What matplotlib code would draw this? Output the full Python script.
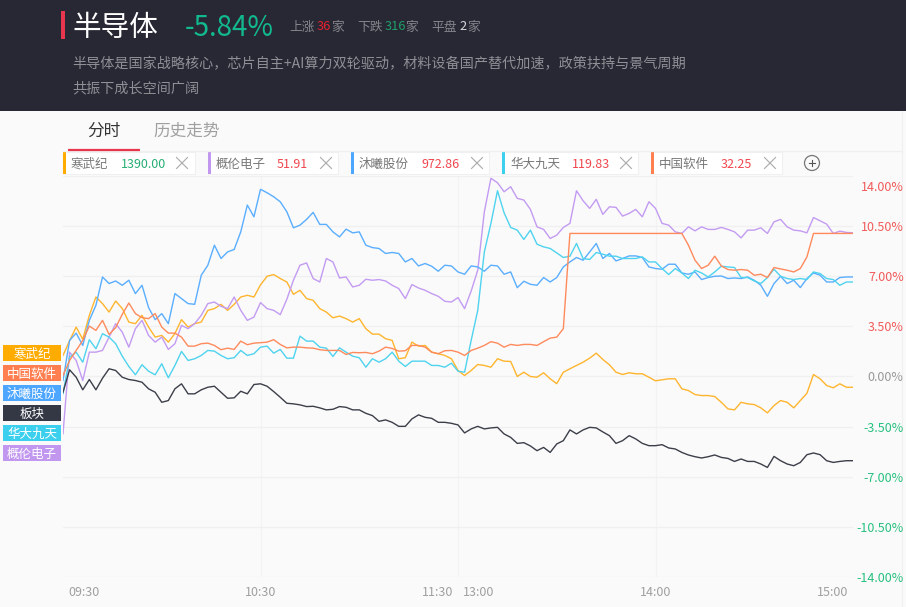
import matplotlib
matplotlib.use('Agg')
import matplotlib.pyplot as plt
from matplotlib.patches import Rectangle, Circle
from matplotlib.transforms import ScaledTranslation

plt.rcParams['font.family'] = ['Noto Sans CJK SC', 'DejaVu Sans']

W, H = 906, 607

# one reading every 2 minutes of trading time, 0 = 09:30, 240 = 15:00
minutes = list(range(0, 242, 2))

hanwuji = [1.47, 2.5, 3.45, 2.6, 4.27, 5.55, 5.09, 4.5, 5.27, 4.75, 3.8, 3.69, 4.27, 3.45, 2.75, 2.87, 2.4, 3.0, 3.97, 3.45,
           3.69, 3.8, 4.62, 4.74, 5.04, 4.62, 5.04, 5.55, 5.67, 5.55, 6.4, 7.0, 7.12, 6.84, 6.6, 5.74, 6.02, 5.44, 5.32, 4.74,
           4.5, 4.1, 4.22, 4.04, 3.8, 4.04, 3.34, 2.96, 2.96, 2.64, 2.52, 1.24, 1.31, 2.4, 2.12, 2.17, 1.7, 1.59, 1.47, 1.24,
           0.42, 0.07, 0.42, 0.84, 0.77, 0.65, 1.24, 1.07, 1.05, 0.0, 0.3, 0.0, -0.05, 0.26, -0.16, -0.5, 0.3, 0.54, 0.77, 1.0,
           1.28, 1.63, 1.19, 0.82, 0.3, 0.14, 0.26, 0.19, 0.19, -0.05, -0.3, -0.23, -0.16, -0.16, -0.86, -0.98, -1.26, -1.33, -1.33, -1.4,
           -1.8, -2.26, -2.33, -1.8, -1.91, -1.96, -2.19, -2.54, -2.03, -1.68, -1.8, -2.19, -1.68, -1.17, 0.14, -0.16, -0.63, -0.79, -0.51, -0.75,
           -0.75]
gailun = [-4.0, 1.7, 1.12, -0.28, 1.7, 1.7, 1.82, 2.75, 3.69, 3.1, 2.05, 3.34, 3.92, 2.87, 2.4, 2.75, 1.89, 2.29, 3.57, 3.34,
          3.69, 4.27, 5.09, 5.2, 4.9, 4.74, 5.55, 4.62, 3.92, 4.15, 5.16, 4.74, 4.62, 4.32, 5.39, 6.72, 7.77, 7.93, 6.84, 6.6,
          8.24, 8.0, 6.88, 6.95, 6.25, 6.37, 6.79, 6.72, 6.77, 6.67, 6.37, 6.14, 5.44, 6.42, 6.18, 6.02, 5.79, 5.6, 5.25, 5.2,
          5.51, 4.74, 5.97, 7.42, 11.5, 13.84, 13.53, 12.9, 13.25, 12.44, 12.32, 11.67, 10.45, 10.27, 9.64, 9.87, 10.41, 10.69, 12.97, 12.27,
          11.74, 12.37, 11.32, 11.85, 11.81, 11.2, 11.39, 11.67, 11.15, 12.2, 11.74, 10.69, 10.57, 10.1, 9.99, 10.45, 10.17, 10.45, 10.27, 10.27,
          10.41, 10.27, 10.1, 9.68, 10.22, 10.22, 10.38, 9.99, 10.8, 10.97, 10.45, 10.22, 10.17, 10.03, 11.1, 10.87, 10.64, 9.99, 10.15, 10.06,
          10.03]
muxi = [-0.28, 2.52, 3.03, 2.17, 3.92, 4.97, 6.95, 6.49, 6.67, 6.37, 6.72, 5.79, 6.37, 4.81, 3.97, 4.39, 3.69, 5.79, 5.44, 5.09,
        5.04, 7.07, 7.77, 9.17, 8.24, 8.7, 8.87, 10.1, 11.97, 11.15, 13.07, 12.83, 12.55, 12.2, 11.5, 10.38, 10.57, 10.97, 11.46, 10.62,
        10.62, 10.1, 9.75, 10.29, 10.03, 10.1, 9.17, 9.0, 8.94, 8.59, 8.66, 8.59, 8.0, 8.24, 7.72, 7.89, 7.7, 7.35, 7.77, 7.72,
        7.3, 7.14, 7.72, 7.65, 7.35, 7.77, 7.72, 7.14, 7.3, 6.2, 6.65, 6.44, 6.37, 6.91, 6.6, 6.91, 7.65, 8.0, 8.31, 8.12,
        8.7, 9.29, 8.24, 8.59, 8.07, 8.24, 8.42, 8.42, 8.31, 7.65, 7.54, 7.49, 7.84, 7.84, 7.23, 7.14, 7.3, 6.77, 6.91, 7.0,
        7.02, 6.84, 6.88, 6.84, 6.95, 6.72, 6.37, 5.6, 6.49, 7.0, 6.49, 6.72, 6.21, 6.84, 7.23, 7.07, 6.6, 6.6, 6.91, 6.95,
        6.95]
huada = [-1.21, 1.35, 1.7, 1.0, 2.57, 1.94, 2.99, 2.75, 2.29, 1.42, 0.7, 0.12, 0.82, 0.37, 0.12, 0.89, -0.09, 0.77, 1.75, 1.12,
         1.24, 1.47, 1.82, 1.77, 1.47, 1.24, 1.31, 1.82, 1.47, 1.59, 2.05, 2.12, 1.63, 1.89, 1.28, 1.28, 2.82, 2.47, 2.47, 2.05,
         1.98, 1.4, 2.0, 1.7, 1.42, 1.31, 0.65, 1.24, 1.0, 1.24, 1.7, 1.07, 0.7, 1.07, 1.07, 1.07, 0.77, 0.77, 0.65, 0.93,
         0.37, 0.3, 2.52, 4.62, 8.7, 10.69, 12.97, 11.43, 10.41, 10.22, 9.57, 10.22, 9.24, 9.05, 8.94, 8.63, 8.31, 8.4, 9.29, 8.24,
         8.17, 8.66, 8.54, 8.4, 8.4, 8.24, 8.24, 8.24, 8.35, 8.0, 8.0, 7.54, 7.12, 7.54, 7.23, 6.84, 7.42, 7.23, 6.95, 7.3,
         7.7, 7.65, 7.61, 6.91, 6.91, 6.67, 6.49, 6.91, 7.49, 7.0, 6.84, 6.77, 6.84, 6.77, 7.3, 7.19, 6.84, 6.77, 6.37, 6.6,
         6.6]
zhongruan = [0.07, 1.12, 1.82, 2.52, 3.52, 3.22, 3.92, 2.94, 3.41, 4.34, 5.13, 4.39, 4.11, 4.04, 4.39, 3.45, 3.03, 3.03, 2.75, 2.12,
             2.12, 2.29, 2.33, 2.17, 1.87, 1.98, 1.89, 2.47, 2.22, 2.33, 2.36, 2.4, 2.57, 2.24, 2.0, 2.05, 2.05, 2.0, 1.98, 1.87,
             1.82, 1.82, 1.82, 1.54, 1.68, 1.66, 1.68, 1.59, 1.77, 2.05, 1.96, 1.77, 1.8, 2.17, 2.17, 2.05, 1.7, 1.59, 1.8, 1.82,
             1.7, 1.47, 1.82, 1.98, 2.17, 2.43, 2.33, 2.05, 2.24, 2.17, 2.24, 2.24, 2.17, 2.43, 2.68, 2.75, 3.34, 9.99, 9.99, 9.99,
             9.99, 9.99, 9.99, 9.99, 9.99, 9.99, 9.99, 9.99, 9.99, 9.99, 9.99, 9.99, 9.99, 9.99, 9.99, 9.17, 8.12, 7.54, 7.77, 8.4,
             7.72, 7.47, 7.42, 7.47, 7.42, 7.07, 7.14, 6.91, 7.61, 7.51, 7.42, 7.3, 7.54, 8.35, 9.99, 9.99, 9.99, 9.99, 9.99, 9.99,
             9.99]
bankuai = [-1.1, 0.47, -0.05, -0.93, -0.21, -0.93, -0.12, 0.54, 0.42, -0.05, -0.21, -0.28, -0.4, -0.86, -1.1, -1.8, -1.68, -0.86, -0.51, -1.21,
           -1.21, -0.93, -0.75, -0.68, -1.1, -1.52, -1.49, -1.03, -1.21, -0.56, -0.51, -0.68, -1.05, -1.45, -1.87, -1.91, -1.98, -2.1, -2.08, -2.19,
           -2.33, -2.29, -2.1, -2.15, -2.33, -2.33, -2.57, -2.73, -3.13, -3.03, -3.2, -3.48, -3.48, -2.96, -2.68, -2.85, -2.92, -3.2, -3.2, -3.27,
           -3.38, -3.94, -3.66, -3.48, -3.66, -3.59, -3.55, -4.01, -4.25, -4.67, -4.62, -4.85, -5.18, -4.95, -5.3, -4.71, -4.48, -3.73, -4.01, -3.73,
           -3.55, -3.59, -3.87, -4.13, -4.67, -4.48, -4.13, -4.36, -4.67, -4.83, -4.83, -4.76, -4.99, -5.06, -5.3, -5.48, -5.6, -5.69, -5.6, -5.48,
           -5.65, -5.72, -5.93, -5.76, -5.93, -5.93, -6.11, -6.35, -5.58, -5.88, -6.11, -6.23, -6.0, -5.46, -5.34, -5.46, -5.88, -6.0, -5.93, -5.88,
           -5.88]

y_ticks = [14, 10.5, 7, 3.5, 0, -3.5, -7, -10.5, -14]
y_labels = ['14.00%', '10.50%', '7.00%', '3.50%', '0.00%', '-3.50%', '-7.00%', '-10.50%', '-14.00%']

names = ['寒武纪', '概伦电子', '沐曦股份', '华大九天', '中国软件']
prices = ['1390.00', '51.91', '972.86', '119.83', '32.25']
price_up = [False, True, True, True, True]
side_names = ['寒武纪', '中国软件', '沐曦股份', '板块', '华大九天', '概伦电子']

ORANGE = '#ffab00'
PURPLE = '#c197f0'
BLUE = '#4da6ff'
CYAN = '#3dd0ee'
CORAL = '#ff7f50'
DARK = '#343844'
RED = '#f0474f'
GRID = '#f0f0f0'

fig = plt.figure(figsize=(W / 100, H / 100), dpi=100, facecolor='#fafafa')

# chrome sits on a full-figure layer measured in pixels
bg = fig.add_axes([0, 0, 1, 1], zorder=0)
bg.set_xlim(0, W)
bg.set_ylim(H, 0)
bg.axis('off')

bg.add_patch(Rectangle((0, 0), W, 111, color='#282834', lw=0))
bg.add_patch(Rectangle((61, 11), 4, 28, color='#e8364f', lw=0))
bg.text(72, 27.5, '半导体', color='white', fontsize=20.6, va='center', fontweight='medium')
bg.text(185, 27.5, '-5.84%', color='#12b98f', fontsize=20, va='center', fontweight='medium')

head = [(289, '上涨', '#85858c'), (317, '36', '#e8202f'), (331, '家', '#85858c'),
        (357, '下跌', '#85858c'), (385, '316', '#1e9e6a'), (405, '家', '#85858c'),
        (431, '平盘', '#85858c'), (459, '2', '#d8d8dc'), (467, '家', '#85858c')]
for x, s, c in head:
    bg.text(x, 27, s, color=c, fontsize=9.2, va='center')

bg.text(72, 64, '半导体是国家战略核心，芯片自主+AI算力双轮驱动，材料设备国产替代加速，政策扶持与景气周期',
        color='#8f8f96', fontsize=10.15, va='center')
bg.text(72, 88, '共振下成长空间广阔', color='#8f8f96', fontsize=10.15, va='center')

bg.text(87, 131, '分时', color='#333333', fontsize=12, va='center')
bg.text(153, 131, '历史走势', color='#a0a0a0', fontsize=12, va='center')
bg.plot([63, 902], [150.5, 150.5], color=GRID, lw=1)
bg.plot([68, 140], [150, 150], color='#e8364f', lw=1.6, solid_capstyle='butt')
bg.plot([902, 902], [111, 607], color=GRID, lw=0.8)

chip_left = [63, 208, 351, 502, 651]
chip_right = [195, 338, 489, 638, 782]
price_x = [121, 277, 421, 572, 721]
close_x = [182, 326, 477, 626, 770]
chip_colors = [ORANGE, PURPLE, BLUE, CYAN, CORAL]
for i in range(5):
    bg.add_patch(Rectangle((chip_left[i], 152), chip_right[i] - chip_left[i], 22, fc='white', ec='#f0f0f0', lw=0.8))
    bg.add_patch(Rectangle((chip_left[i], 152), 2.5, 22, color=chip_colors[i], lw=0))
    bg.text(chip_left[i] + 8, 164, names[i], color='#777777', fontsize=9, va='center')
    bg.text(price_x[i], 164, prices[i], color=RED if price_up[i] else '#27ae74', fontsize=9, va='center')
    bg.plot([close_x[i] - 5.5, close_x[i] + 5.5], [157.5, 168.5], color='#aaaaaa', lw=0.8)
    bg.plot([close_x[i] - 5.5, close_x[i] + 5.5], [168.5, 157.5], color='#aaaaaa', lw=0.8)

bg.add_patch(Circle((812, 163), 7.5, fill=False, ec='#777777', lw=0.9))
bg.plot([809, 815], [163, 163], color='#555555', lw=0.8)
bg.plot([812, 812], [160, 166], color='#555555', lw=0.8)

side_colors = [ORANGE, CORAL, BLUE, DARK, CYAN, PURPLE]
for i, s in enumerate(side_names):
    top = 345 + 20 * i
    bg.add_patch(Rectangle((3, top), 58, 16, color=side_colors[i], lw=0))
    bg.text(32, top + 9, s, color='white', fontsize=9, ha='center', va='center')

# price chart
ax = fig.add_axes([63 / W, 1 - 577 / H, 790 / W, 401 / H], zorder=1)
ax.patch.set_alpha(0)
for s in ax.spines.values():
    s.set_visible(False)
ax.set_xlim(0, 240)
ax.set_ylim(-14, 14)
ax.set_xticks([60, 120, 180])
ax.set_xticklabels([])
ax.set_yticks(y_ticks)
ax.set_yticklabels(y_labels)
ax.yaxis.tick_right()
ax.tick_params(axis='both', length=0)
ax.tick_params(axis='y', pad=36.5, labelsize=9)
ax.grid(axis='y', color=GRID, lw=1)
ax.grid(axis='x', color='#f3f3f3', lw=0.8)
ax.set_axisbelow(True)

for lab, v in zip(ax.get_yticklabels(), y_ticks):
    lab.set_ha('right')
    lab.set_color('#f25a5a' if v > 0 else ('#999999' if v == 0 else '#27c07f'))
    if v == 14:
        # top label hangs below its gridline
        lab.set_transform(lab.get_transform() + ScaledTranslation(0, -10 / 72 * 0.72, fig.dpi_scale_trans))

ax.plot(minutes, hanwuji, color='#ffb52e', lw=1)
ax.plot(minutes, gailun, color='#c39bf2', lw=1)
ax.plot(minutes, muxi, color='#5aaeff', lw=1)
ax.plot(minutes, huada, color='#4fd3ef', lw=1)
ax.plot(minutes, zhongruan, color='#ff8a5c', lw=1)
ax.plot(minutes, bankuai, color='#3c3f4a', lw=1)

# time labels are nudged off their ticks like the original
time_labels = [('09:30', 0, 5, 'left'), ('10:30', 60, 0, 'center'), ('11:30', 120, -5, 'right'),
               ('13:00', 120, 4.5, 'left'), ('14:00', 180, 0, 'center'), ('15:00', 240, -5, 'right')]
for s, m, dx, ha in time_labels:
    ax.annotate(s, xy=(m, -14), xytext=(dx * 0.72, -16 * 0.72), textcoords='offset points',
                color='#a0a0a0', fontsize=9, ha=ha, va='center', annotation_clip=False)

plt.savefig('out.png', dpi=100, facecolor=fig.get_facecolor())
plt.close()
